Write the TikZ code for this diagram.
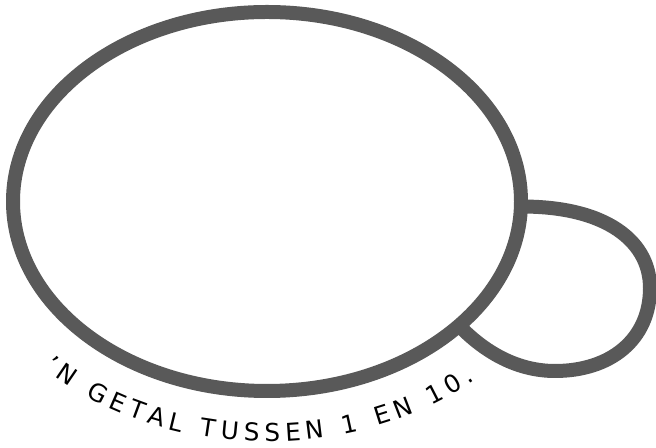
\documentclass[tikz,border=0pt]{standalone}
\usepackage{fontspec}
\setmainfont{DejaVu Sans}
\usetikzlibrary{decorations.text}
\definecolor{bubblegray}{HTML}{595959}

\begin{document}
\begin{tikzpicture}[
  x=0.02cm, y=0.02cm,
  outline/.style = {draw=bubblegray, line width=0.28cm},
  curvedlabel/.style = {decorate, decoration={text along path, text align={fit to path},
      text={|\fontsize{14}{17}\selectfont|’N GETAL TUSSEN 1 EN 10.}}}
]
  \useasboundingbox (0,0) rectangle (656,-448);

  % Small bubble (behind)
  \draw[outline] (505,-207) .. controls (600,-202) and (650,-238) .. (650,-288)
    .. controls (650,-340) and (610,-371) .. (555,-371)
    .. controls (515,-371) and (480,-350) .. (452,-318);

  % Big bubble
  \draw[outline, fill=white] (267,-201.5) ellipse [x radius=254, y radius=189.5];

  % Label along the bottom
  \path[curvedlabel] (267,-201.5) ++(224:310 and 240) arc [start angle=224, end angle=312, x radius=310, y radius=240];
\end{tikzpicture}
\end{document}
